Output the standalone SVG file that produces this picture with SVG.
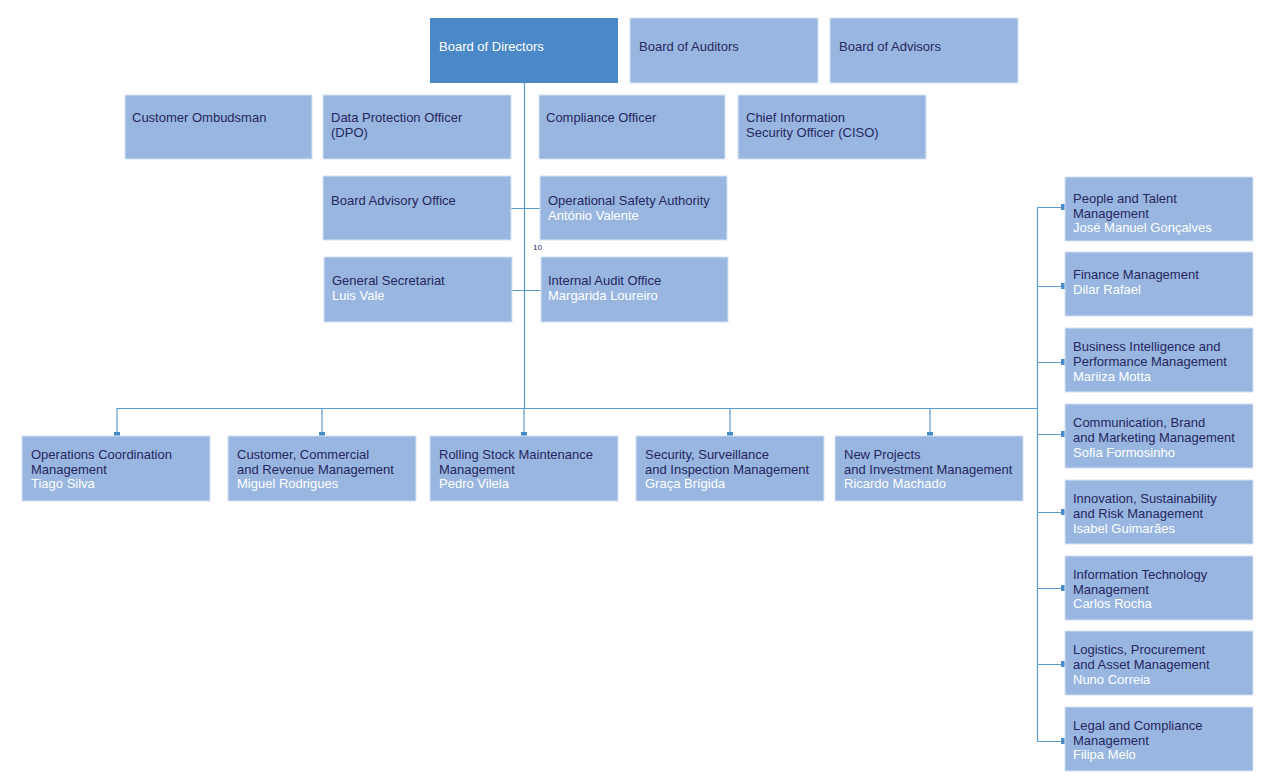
<svg xmlns="http://www.w3.org/2000/svg" width="1275" height="781" viewBox="0 0 1275 781">
<style>
.b{fill:#98b6e0;stroke:#d6e2f2;stroke-width:1}
.d{fill:#4a88c8}
text{font-family:"Liberation Sans",Arial,sans-serif;font-size:13px;fill:#27275f}
.n{fill:#ffffff}
.w{fill:#ffffff}
.c{stroke:#5b9bd0;stroke-width:1.2;fill:none}
.s{fill:#4a8cc8}
</style>
<rect width="1275" height="781" fill="#fff"/>
<g id="connectors">
<path class="c" d="M524.5 83V408M117 408.5H1037M1037.5 207V741M511 208.5H540M512 290.5H541M117 408V436M322 408V436M524 408V436M730 408V436M930 408V436M1037 207.5H1065M1037 286.5H1065M1037 362.5H1065M1037 434.5H1065M1037 512.5H1065M1037 588.5H1065M1037 664.5H1065M1037 741.5H1065"/>
<g class="s"><rect x="114" y="432" width="6" height="5"/><rect x="319" y="432" width="6" height="5"/><rect x="521" y="432" width="6" height="5"/><rect x="727" y="432" width="6" height="5"/><rect x="927" y="432" width="6" height="5"/>
<rect x="1061" y="204" width="5" height="6"/><rect x="1061" y="283" width="5" height="6"/><rect x="1061" y="359" width="5" height="6"/><rect x="1061" y="431" width="5" height="6"/><rect x="1061" y="509" width="5" height="6"/><rect x="1061" y="585" width="5" height="6"/><rect x="1061" y="661" width="5" height="6"/><rect x="1061" y="738" width="5" height="6"/></g>
<text x="533" y="250" style="font-size:8px">10</text>
</g>
<g id="bod"><rect class="d" x="430" y="18" width="188" height="65"/><text class="w" x="439" y="51">Board of Directors</text></g>
<g id="auditors"><rect class="b" x="630" y="18" width="188" height="65"/><text x="639" y="51">Board of Auditors</text></g>
<g id="advisors"><rect class="b" x="830" y="18" width="188" height="65"/><text x="839" y="51">Board of Advisors</text></g>
<g id="ombudsman"><rect class="b" x="125" y="95" width="187" height="64"/><text x="132" y="122">Customer Ombudsman</text></g>
<g id="dpo"><rect class="b" x="323" y="95" width="188" height="64"/><text x="331" y="122">Data Protection Officer<tspan x="331" dy="14.5">(DPO)</tspan></text></g>
<g id="compliance"><rect class="b" x="539" y="95" width="186" height="64"/><text x="546" y="122">Compliance Officer</text></g>
<g id="ciso"><rect class="b" x="738" y="95" width="188" height="64"/><text x="746" y="122">Chief Information<tspan x="746" dy="14.5">Security Officer (CISO)</tspan></text></g>
<g id="advisory"><rect class="b" x="323" y="176" width="188" height="64"/><text x="331" y="205">Board Advisory Office</text></g>
<g id="osa"><rect class="b" x="540" y="176" width="187" height="64"/><text x="548" y="205">Operational Safety Authority</text><text class="n" x="548" y="219.5">António Valente</text></g>
<g id="secretariat"><rect class="b" x="324" y="257" width="188" height="65"/><text x="332" y="285">General Secretariat</text><text class="n" x="332" y="299.5">Luis Vale</text></g>
<g id="audit"><rect class="b" x="541" y="257" width="187" height="65"/><text x="548" y="285">Internal Audit Office</text><text class="n" x="548" y="299.5">Margarida Loureiro</text></g>
<g id="ops"><rect class="b" x="22" y="436" width="188" height="65"/><text x="31" y="459">Operations Coordination<tspan x="31" dy="14.5">Management</tspan></text><text class="n" x="31" y="488">Tiago Silva</text></g>
<g id="cust"><rect class="b" x="228" y="436" width="188" height="65"/><text x="237" y="459">Customer, Commercial<tspan x="237" dy="14.5">and Revenue Management</tspan></text><text class="n" x="237" y="488">Miguel Rodrigues</text></g>
<g id="rolling"><rect class="b" x="430" y="436" width="188" height="65"/><text x="439" y="459">Rolling Stock Maintenance<tspan x="439" dy="14.5">Management</tspan></text><text class="n" x="439" y="488">Pedro Vilela</text></g>
<g id="security"><rect class="b" x="636" y="436" width="188" height="65"/><text x="645" y="459">Security, Surveillance<tspan x="645" dy="14.5">and Inspection Management</tspan></text><text class="n" x="645" y="488">Graça Brígida</text></g>
<g id="projects"><rect class="b" x="835" y="436" width="188" height="65"/><text x="844" y="459">New Projects<tspan x="844" dy="14.5">and Investment Management</tspan></text><text class="n" x="844" y="488">Ricardo Machado</text></g>
<g id="people"><rect class="b" x="1065" y="177" width="188" height="64"/><text x="1073" y="203">People and Talent<tspan x="1073" dy="14.5">Management</tspan></text><text class="n" x="1073" y="232">José Manuel Gonçalves</text></g>
<g id="finance"><rect class="b" x="1065" y="252" width="188" height="64"/><text x="1073" y="279">Finance Management</text><text class="n" x="1073" y="293.5">Dilar Rafael</text></g>
<g id="bi"><rect class="b" x="1065" y="328" width="188" height="64"/><text x="1073" y="351">Business Intelligence and<tspan x="1073" dy="14.5">Performance Management</tspan></text><text class="n" x="1073" y="381">Mariiza Motta</text></g>
<g id="comm"><rect class="b" x="1065" y="404" width="188" height="64"/><text x="1073" y="427">Communication, Brand<tspan x="1073" dy="14.5">and Marketing Management</tspan></text><text class="n" x="1073" y="457">Sofia Formosinho</text></g>
<g id="innov"><rect class="b" x="1065" y="480" width="188" height="64"/><text x="1073" y="503">Innovation, Sustainability<tspan x="1073" dy="14.5">and Risk Management</tspan></text><text class="n" x="1073" y="533">Isabel Guimarães</text></g>
<g id="it"><rect class="b" x="1065" y="556" width="188" height="64"/><text x="1073" y="579">Information Technology<tspan x="1073" dy="14.5">Management</tspan></text><text class="n" x="1073" y="608">Carlos Rocha</text></g>
<g id="logistics"><rect class="b" x="1065" y="631" width="188" height="64"/><text x="1073" y="654">Logistics, Procurement<tspan x="1073" dy="14.5">and Asset Management</tspan></text><text class="n" x="1073" y="684">Nuno Correia</text></g>
<g id="legal"><rect class="b" x="1065" y="707" width="188" height="64"/><text x="1073" y="730">Legal and Compliance<tspan x="1073" dy="14.5">Management</tspan></text><text class="n" x="1073" y="759">Filipa Melo</text></g>
</svg>
